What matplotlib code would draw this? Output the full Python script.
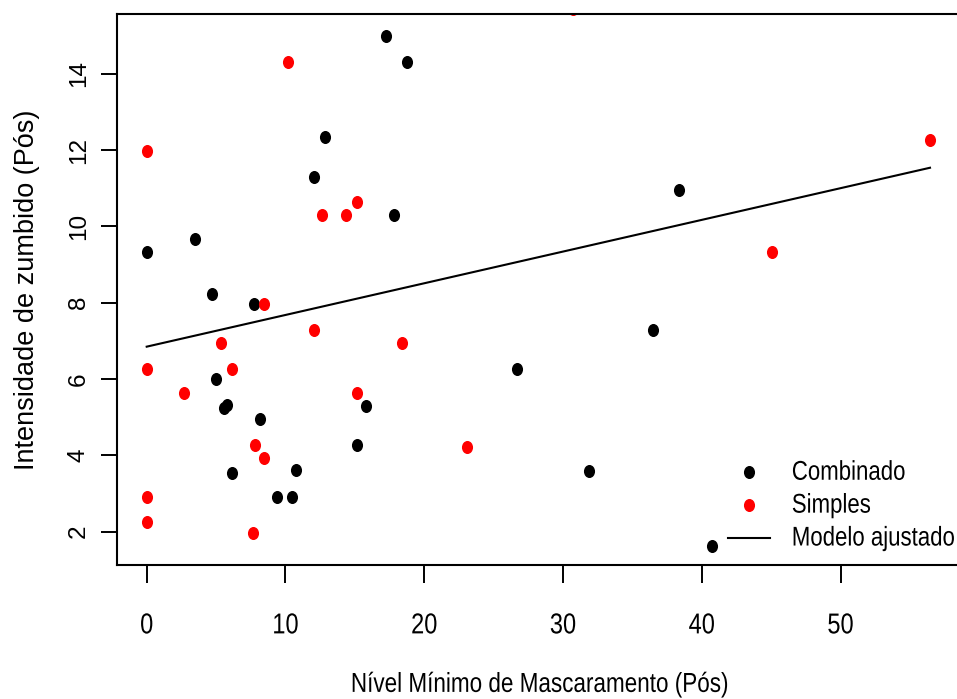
import matplotlib
matplotlib.use("Agg")
import matplotlib.pyplot as plt
from matplotlib.patheffects import AbstractPathEffect
from matplotlib.path import Path
from matplotlib.transforms import Affine2D

# Dados
comb_x = [17.28, 18.78, 12.87, 12.08, 17.84, 3.5, 0.0, 4.73, 7.76, 5.0, 5.6, 5.8,
          15.8, 8.18, 15.15, 10.78, 6.15, 9.4, 10.48, 38.38, 36.48, 26.71, 31.9, 40.72]
comb_y = [15.0, 14.3, 12.34, 11.31, 10.29, 9.67, 9.33, 8.23, 7.97, 6.0, 5.25, 5.32,
          5.30, 4.96, 4.28, 3.61, 3.55, 2.92, 2.92, 10.96, 7.29, 6.27, 3.60, 1.63]

simp_x = [10.2, 0.0, 15.15, 12.65, 14.38, 8.48, 12.08, 5.37, 18.4, 0.0, 6.15,
          2.71, 15.15, 7.8, 8.48, 0.0, 0.0, 7.68, 30.7, 56.45, 45.06, 23.1]
simp_y = [14.3, 11.98, 10.63, 10.29, 10.29, 7.97, 7.29, 6.95, 6.95, 6.27, 6.27,
          5.64, 5.64, 4.28, 3.94, 2.92, 2.25, 1.97, 15.7, 12.26, 9.33, 4.21]

# modelo ajustado (extremos da reta)
fit_x = [0.0, 56.45]
fit_y = [6.85, 11.54]

x_ticks = [0, 10, 20, 30, 40, 50]
y_ticks = [2, 4, 6, 8, 10, 12, 14]


class Esticar(AbstractPathEffect):
    """Estica os glifos na vertical (o original foi redimensionado)"""

    def __init__(self, sy=1.22):
        super().__init__()
        self.sy = sy

    def draw_path(self, renderer, gc, tpath, affine, rgbFace=None):
        renderer.draw_path(gc, tpath, Affine2D().scale(1, self.sy) + affine, rgbFace)


plt.rcParams["font.family"] = ["Liberation Sans", "DejaVu Sans"]

# ponto levemente oval, como no original
ponto = Path.unit_circle().transformed(Affine2D().scale(0.85, 1))

fig = plt.figure(figsize=(9.57, 6.99), dpi=100)
ax = fig.add_axes([117 / 957, 134 / 699, 847 / 957, 551 / 699])

ax.plot(comb_x, comb_y, linestyle="none", marker=ponto, color="black",
        markersize=9.4, markeredgewidth=0, label="Combinado")
ax.plot(simp_x, simp_y, linestyle="none", marker=ponto, color="red",
        markersize=9.4, markeredgewidth=0, label="Simples")
ax.plot(fit_x, fit_y, "-", color="black", linewidth=1.5, label="Modelo ajustado")

ax.set_xlim(-2.14, 58.9)
ax.set_ylim(1.127, 15.57)
ax.set_xticks(x_ticks)
ax.set_yticks(y_ticks)

for s in ax.spines.values():
    s.set_linewidth(1.5)

ax.tick_params(axis="x", direction="out", length=13, width=1.4, pad=24, labelsize=17)
ax.tick_params(axis="y", direction="out", length=11.5, width=1.4, pad=8, labelsize=17.5,
               labelrotation=90)
for lbl in ax.get_yticklabels():
    lbl.set_va("center")
for lbl in ax.get_xticklabels():
    lbl.set_path_effects([Esticar()])

ax.set_xlabel("Nível Mínimo de Mascaramento (Pós)", fontsize=16.2, labelpad=27,
              path_effects=[Esticar()])
ax.set_ylabel("Intensidade de zumbido (Pós)", fontsize=19.5, labelpad=20)

leg = ax.legend(loc="center left", bbox_to_anchor=(0.7214, 0.105), frameon=False,
                fontsize=16, borderpad=0, borderaxespad=0, handlelength=1.9,
                handletextpad=0.97, labelspacing=0.535, numpoints=1)
for t in leg.get_texts():
    t.set_path_effects([Esticar()])

fig.savefig("out.png", dpi=100)
